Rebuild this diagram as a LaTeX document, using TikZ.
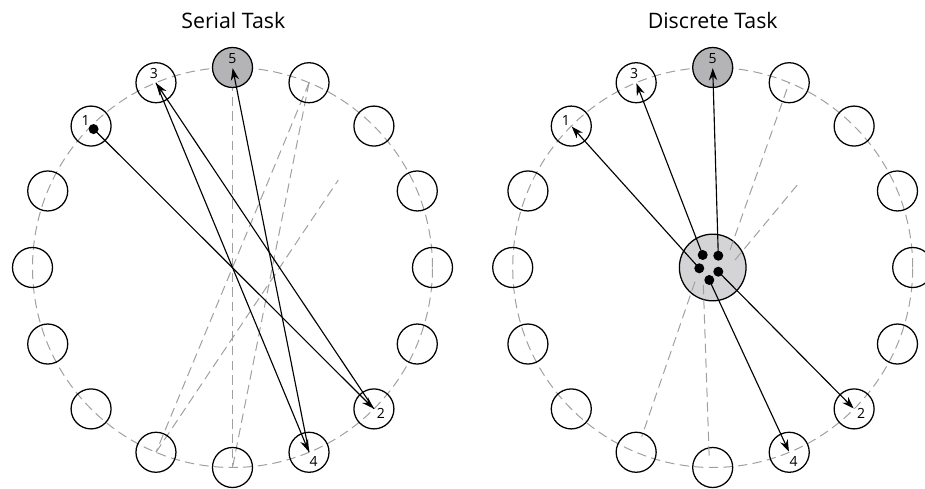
\documentclass[tikz,border=0pt]{standalone}
\usepackage{fontspec}
\setmainfont{Open Sans}
\usetikzlibrary{arrows.meta,calc}
\definecolor{dashgrey}{RGB}{160,160,160}
\definecolor{nodegrey}{RGB}{180,180,183}
\definecolor{hubgrey}{RGB}{212,212,214}
\tikzset{
  nd/.style={circle,draw=black,line width=0.95pt,minimum size=30pt,inner sep=0pt},
  topnd/.style={nd,fill=nodegrey},
  hubnd/.style={circle,draw=black,line width=0.95pt,fill=hubgrey,minimum size=50pt,inner sep=0pt},
  dsh/.style={draw=dashgrey,line width=0.75pt,dash pattern=on 7pt off 4pt},
  arr/.style={draw=black,line width=0.85pt,-{Stealth[length=9pt,width=6.2pt]},shorten >=0.5pt},
  dotnd/.style={circle,fill=black,minimum size=7.5pt,inner sep=0pt},
  lbl/.style={font=\fontsize{10.5pt}{11pt}\selectfont,inner sep=0pt},
  ttl/.style={font=\fontsize{16pt}{17pt}\selectfont,inner sep=0pt,anchor=base}
}
\begin{document}
\begin{tikzpicture}[x=0.75pt,y=0.75pt]
\useasboundingbox (0,0) rectangle (925,489);
\clip (0,0) rectangle (925,489);
% centres
\coordinate (LC) at (232.5,221.5);
\coordinate (RC) at (712.7,221.5);
% titles
\node[ttl] (t1) at (233.3,460.7) {Serial Task};
\node[ttl] (t2) at (712.7,460.7) {Discrete Task};
% dashed rings
\draw[dsh] (LC) circle (200);
\draw[dsh] (RC) circle (200);
% node positions
\foreach \i in {0,...,15}{
  \coordinate (LP\i) at ($(LC)+(\i*22.5:200)$);
  \coordinate (RP\i) at ($(RC)+(\i*22.5:200)$);
}
% left dashed chords
\coordinate (Lfree) at ($(LC)+(105.8,87.5)$);
\draw[dsh] (LP4) -- (LP12);
\draw[dsh] (LP3) -- (LP11);
\draw[dsh] (LP3) -- (LP12);
\draw[dsh] (LP11) -- (Lfree);
% white nodes
\foreach \i in {0,1,2,3,5,6,7,8,9,10,11,12,13,14,15}{
  \node[nd] (L\i) at (LP\i) {};
  \node[nd] (R\i) at (RP\i) {};
}
\node[topnd] (L4) at (LP4) {};
\node[topnd] (R4) at (RP4) {};
% hub
\node[hubnd] (hub) at (RC) {};
\coordinate (h1s) at ($(RC)+(17.3,17.5)$);
\coordinate (h2s) at ($(RC)+(22.3,7.5)$);
\coordinate (h2e) at ($(RC)+(87.3,85.8)$);
\coordinate (h3s) at ($(RC)+(-17.7,-14.2)$);
\coordinate (h3e) at ($(RC)+(-71,-169.2)$);
\coordinate (h4s) at ($(RC)+(-9.4,-17.5)$);
\coordinate (h4e) at ($(RC)+(-3.4,-192.5)$);
\draw[dsh] (h1s) -- (R3.center);
\draw[dsh] (h2s) -- (h2e);
\draw[dsh] (h3s) -- (h3e);
\draw[dsh] (h4s) -- (h4e);
% left start dot
\node[dotnd] (ldot) at ($(L6.center)+(2.5,-3)$) {};
% left serial arrows
\draw[arr] (ldot.center) -- (L14.center);
\draw[arr] (L14.center) -- (L5.center);
\draw[arr] (L5.center) -- (L13.center);
\draw[arr] (L13.center) -- (L4.center);
% right dots
\node[dotnd] (d1) at ($(RC)+(-10,12.5)$) {};
\node[dotnd] (d2) at ($(RC)+(5.6,11.8)$) {};
\node[dotnd] (d3) at ($(RC)+(-13.4,-0.8)$) {};
\node[dotnd] (d4) at ($(RC)+(5.6,-4.2)$) {};
\node[dotnd] (d5) at ($(RC)+(-3.4,-12.5)$) {};
\draw[arr] (d1.center) -- (R5.center);
\draw[arr] (d2.center) -- (R4.center);
\draw[arr] (d3.center) -- (R6.center);
\draw[arr] (d4.center) -- (R14.center);
\draw[arr] (d5.center) -- (R13.center);
% labels
\foreach \s in {L,R}{
  \node[lbl] (\s lab5) at ($(\s4.center)+(0,9)$) {5};
  \node[lbl] (\s lab3) at ($(\s5.center)+(-2,9.6)$) {3};
  \node[lbl] (\s lab1) at ($(\s6.center)+(-5.5,5.8)$) {1};
  \node[lbl] (\s lab2) at ($(\s14.center)+(7,-5)$) {2};
  \node[lbl] (\s lab4) at ($(\s13.center)+(4.5,-9.6)$) {4};
}
\end{tikzpicture}
\end{document}
